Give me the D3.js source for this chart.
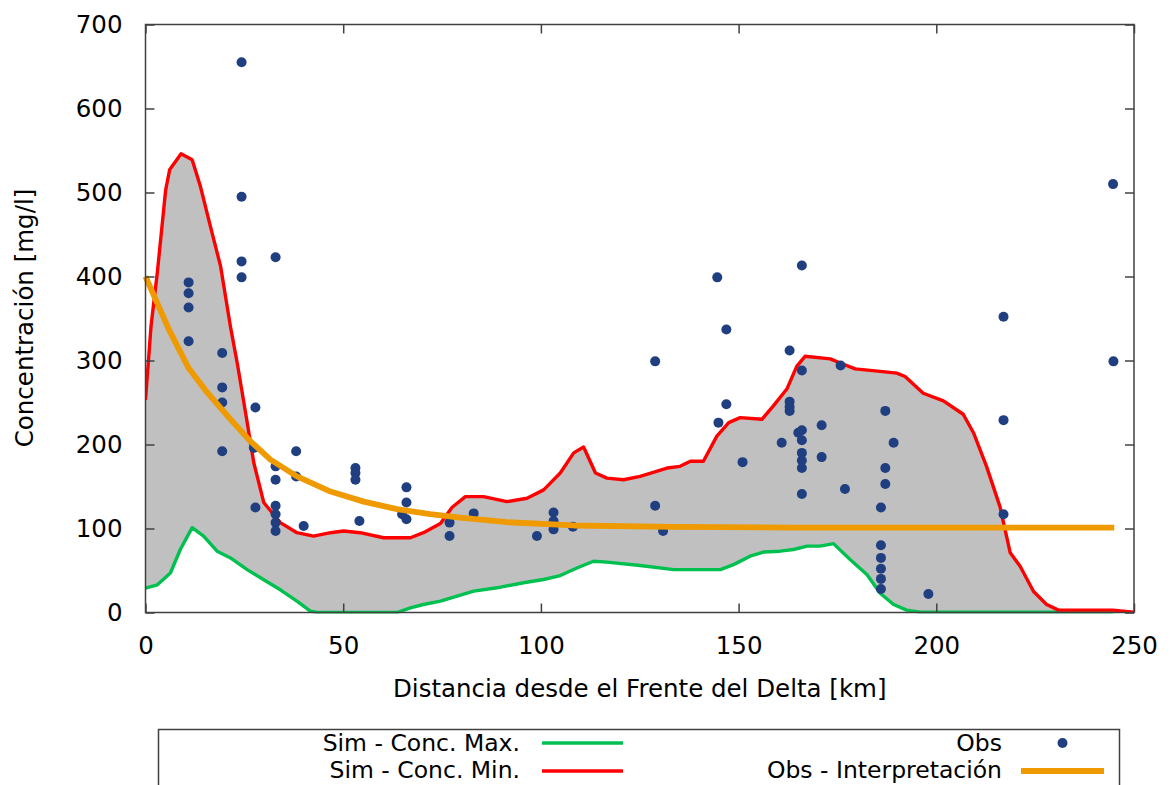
<!DOCTYPE html>
<html>
<head>
<meta charset="utf-8">
<script src="https://cdn.jsdelivr.net/npm/d3@7"></script>
<style>
  html, body { margin: 0; padding: 0; background: #fff; }
  svg { display: block; font-family: "DejaVu Sans", sans-serif; }
</style>
</head>
<body>
<svg id="chart" width="1170" height="785"></svg>
<script>
// Distance from the delta front [km] and concentration [mg/l]
const minDist = [0, 1.4, 3.0, 5.1, 6.1, 9.0, 11.8, 13.9, 16.4, 19.0, 21.5, 23.2, 25.3, 27.4, 29.9, 34.1, 38.3, 42.5, 46.8, 50.1, 54.3, 60.2, 67.0, 70.3, 74.6, 77.5, 80.9, 85.5, 91.4, 96.5, 100.7, 104.9, 108.3, 110.8, 113.8, 116.7, 120.9, 125.1, 131.9, 135.2, 137.8, 141.1, 144.5, 147.5, 150.4, 155.9, 158.8, 162.2, 164.7, 166.8, 173.2, 175.7, 179.5, 185.8, 190.0, 192.1, 196.7, 201.8, 206.8, 209.4, 212.7, 216.1, 218.7, 221.2, 224.6, 227.9, 230.9, 244.7, 250];
const minConc = [253, 341, 405, 503, 527, 546, 539, 507, 460, 412, 340, 297, 238, 178, 131, 107, 95, 91, 95, 97, 95, 89, 89, 95, 106, 125, 138, 138, 132, 136, 146, 166, 190, 197, 166, 160, 158, 162, 172, 174, 180, 180, 210, 226, 232, 230, 246, 266, 293, 305, 302, 297, 290, 287, 285, 281, 261, 252, 236, 214, 174, 126, 71, 55, 25, 9.5, 2.8, 2.8, 0.4];

const maxDist = [0, 3.0, 6.3, 8.8, 11.8, 14.7, 18.1, 21.5, 25.7, 29.9, 34.1, 38.3, 41.7, 43.4, 63.6, 67.0, 70.3, 74.6, 78.8, 83.0, 88.9, 95.6, 100.7, 104.9, 109.1, 113.3, 116.7, 125.1, 133.6, 145.4, 148.7, 152.9, 156.3, 160.5, 163.9, 167.3, 170.6, 174.0, 178.2, 182.5, 185.8, 189.2, 192.5, 195.9, 244.7];
const maxConc = [29, 33, 47, 75, 101, 91, 73, 65, 51, 39, 27, 13.5, 1.6, 0, 0, 5.6, 9.5, 13.5, 19.4, 25.4, 29.4, 35.4, 39.3, 44, 53, 61, 60, 56, 51, 51, 57, 67, 72, 73, 75, 79, 79, 82, 63, 45, 23, 9.5, 2.8, 0.4, 0.4];

const fitDist = [0, 5.9, 10.9, 15.6, 21.5, 26.5, 31.6, 38.3, 46.8, 55.2, 63.6, 72.0, 79.6, 91.4, 108.3, 133.6, 163.0, 245.0];
const fitConc = [400, 337, 291, 262, 230, 204, 182, 162, 144, 132, 123, 117, 113, 107.5, 103.6, 102, 101, 101];

const obsDist = [24.3, 24.3, 24.3, 24.3, 10.9, 10.9, 10.9, 10.9, 32.9, 19.4, 19.4, 19.4, 19.4, 27.8, 27.8, 27.4, 32.9, 32.9, 32.9, 32.9, 32.9, 32.9, 38.1, 38.1, 40.0, 53.1, 53.1, 53.1, 54.1, 66.0, 66.0, 64.9, 66.0, 76.9, 76.9, 83.0, 99.0, 103.2, 103.2, 103.2, 108.1, 128.9, 128.9, 130.9, 146.9, 146.9, 144.9, 144.6, 151.0, 162.9, 160.9, 162.9, 162.9, 162.9, 166.0, 166.0, 175.8, 165.1, 166.0, 166.0, 166.0, 166.0, 166.0, 166.0, 171.0, 171.0, 176.9, 187.1, 189.2, 187.1, 187.1, 186.0, 186.0, 186.0, 186.0, 186.0, 186.0, 198.0, 217.0, 217.0, 217.0, 244.8, 244.7];
const obsConc = [655, 495, 418, 399, 393, 380, 363, 323, 423, 309, 268, 250, 192, 244, 125, 196, 174, 158, 127, 117, 107, 97, 192, 162, 103, 172, 166, 158, 109, 149, 131, 117, 111, 107, 91, 118, 91, 119, 109, 99, 102, 299, 127, 97, 337, 248, 226, 399, 179, 312, 202, 251, 245, 240, 413, 288, 294, 214, 217, 205, 190, 181, 172, 141, 223, 185, 147, 240, 202, 172, 153, 125, 80, 65, 52, 40, 28, 22, 352, 229, 117, 299, 510];

const xTicks = [0, 50, 100, 150, 200, 250];
const yTicks = [0, 100, 200, 300, 400, 500, 600, 700];

const legendItems = [
  { label: "Sim - Conc. Max.", kind: "line", color: "#00c050", col: 0, row: 0 },
  { label: "Sim - Conc. Min.", kind: "line", color: "#ff0000", col: 0, row: 1 },
  { label: "Obs", kind: "dot", color: "#1f3f80", col: 1, row: 0 },
  { label: "Obs - Interpretación", kind: "thick", color: "#ee9a00", col: 1, row: 1 }
];

const svg = d3.select("#chart");
const plot = { left: 145.5, right: 1134, top: 24.5, bottom: 612.5 };
const fontSize = 24.5;
const legendFont = 23.5;
const frameColor = "#404040";

const x = d3.scaleLinear().domain([0, 250]).range([plot.left, plot.right]);
const y = d3.scaleLinear().domain([0, 700]).range([plot.bottom, plot.top]);

const pts = (xs, ys) => xs.map((d, i) => [d, ys[i]]);
const minPts = pts(minDist, minConc);
const maxPts = pts(maxDist, maxConc);
const fitPts = pts(fitDist, fitConc);

const line = d3.line().x(d => x(d[0])).y(d => y(d[1]));

svg.append("defs").append("clipPath").attr("id", "plotClip")
  .append("rect")
  .attr("x", plot.left).attr("y", plot.top)
  .attr("width", plot.right - plot.left).attr("height", plot.bottom - plot.top + 1);

const g = svg.append("g").attr("clip-path", "url(#plotClip)");

// Band between the two simulated envelopes
const band = minPts.concat([[250, 0]], maxPts.slice().reverse());
g.append("path")
  .attr("d", line(band) + "Z")
  .attr("fill", "#c0c0c0")
  .attr("stroke", "none");

g.append("path").attr("d", line(maxPts))
  .attr("fill", "none").attr("stroke", "#00c050").attr("stroke-width", 3.4)
  .attr("stroke-linejoin", "round");

g.append("path").attr("d", line(minPts))
  .attr("fill", "none").attr("stroke", "#ff0000").attr("stroke-width", 3.4)
  .attr("stroke-linejoin", "round");

// Observations
svg.append("g").selectAll("circle")
  .data(pts(obsDist, obsConc))
  .join("circle")
  .attr("cx", d => x(d[0])).attr("cy", d => y(d[1]))
  .attr("r", 5)
  .attr("fill", "#1f3f80");

// Fitted decay of the observations
svg.append("path").attr("d", line(fitPts))
  .attr("fill", "none").attr("stroke", "#ee9a00").attr("stroke-width", 5.8)
  .attr("stroke-linejoin", "round");

// Frame and mirrored ticks
svg.append("rect")
  .attr("x", plot.left).attr("y", plot.top)
  .attr("width", plot.right - plot.left).attr("height", plot.bottom - plot.top)
  .attr("fill", "none").attr("stroke", frameColor).attr("stroke-width", 1.5);

const tickLen = 9;
const axisLeft = d3.axisLeft(y).tickValues(yTicks).tickSize(-tickLen).tickPadding(23);
const axisRight = d3.axisRight(y).tickValues(yTicks).tickSize(-tickLen).tickFormat("");
const axisBottom = d3.axisBottom(x).tickValues(xTicks).tickSize(-tickLen).tickPadding(24);
const axisTop = d3.axisTop(x).tickValues(xTicks).tickSize(-tickLen).tickFormat("");

function styleAxis(sel) {
  sel.select(".domain").remove();
  sel.selectAll(".tick line").attr("stroke", frameColor).attr("stroke-width", 1.5);
  sel.selectAll(".tick text").attr("fill", "#000").style("font-size", fontSize + "px")
    .style("font-family", "DejaVu Sans, sans-serif");
}

svg.append("g").attr("transform", `translate(${plot.left},0)`).call(axisLeft).call(styleAxis);
svg.append("g").attr("transform", `translate(${plot.right},0)`).call(axisRight).call(styleAxis);
svg.append("g").attr("transform", `translate(0,${plot.bottom})`).call(axisBottom).call(styleAxis);
svg.append("g").attr("transform", `translate(0,${plot.top})`).call(axisTop).call(styleAxis);

// Axis titles
svg.append("text")
  .attr("x", (plot.left + plot.right) / 2).attr("y", 697)
  .attr("text-anchor", "middle")
  .style("font-size", fontSize + "px")
  .text("Distancia desde el Frente del Delta [km]");

svg.append("text")
  .attr("transform", `translate(33,318) rotate(-90)`)
  .attr("text-anchor", "middle")
  .style("font-size", fontSize + "px")
  .text("Concentración [mg/l]");

// Legend
const leg = { left: 158.5, top: 729.5, right: 1119.5, bottom: 800 };
svg.append("rect")
  .attr("x", leg.left).attr("y", leg.top)
  .attr("width", leg.right - leg.left).attr("height", leg.bottom - leg.top)
  .attr("fill", "#fff").attr("stroke", frameColor).attr("stroke-width", 1.5);

const colTextRight = [520, 1002];
const colSample = [[542, 623], [1021, 1104]];
const rowY = [743, 771];
const rowText = [743, 770];

const li = svg.append("g").selectAll("g").data(legendItems).join("g");
li.append("text")
  .attr("x", d => colTextRight[d.col])
  .attr("y", d => rowText[d.row])
  .attr("dy", "0.36em")
  .attr("text-anchor", "end")
  .style("font-size", legendFont + "px")
  .text(d => d.label);

li.filter(d => d.kind !== "dot").append("line")
  .attr("x1", d => colSample[d.col][0]).attr("x2", d => colSample[d.col][1])
  .attr("y1", d => rowY[d.row]).attr("y2", d => rowY[d.row])
  .attr("stroke", d => d.color)
  .attr("stroke-width", d => d.kind === "thick" ? 5.8 : 3.4);

li.filter(d => d.kind === "dot").append("circle")
  .attr("cx", d => (colSample[d.col][0] + colSample[d.col][1]) / 2)
  .attr("cy", d => rowY[d.row])
  .attr("r", 5)
  .attr("fill", d => d.color);
</script>
</body>
</html>
